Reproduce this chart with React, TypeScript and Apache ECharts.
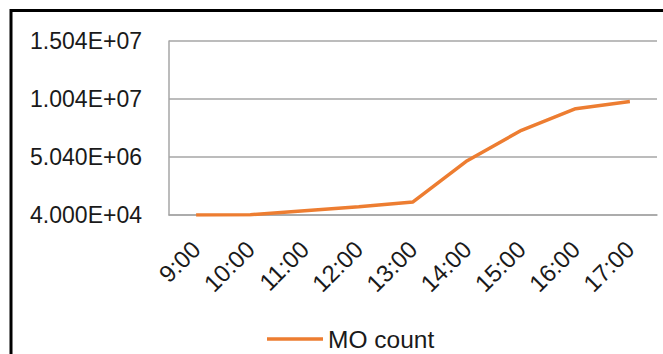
import React, { useEffect, useRef } from "react";
import * as echarts from "echarts";

// Hourly MO counts
const hours = ["9:00", "10:00", "11:00", "12:00", "13:00", "14:00", "15:00", "16:00", "17:00"];
const moCount = [40000, 60000, 410000, 760000, 1170000, 4720000, 7340000, 9200000, 9830000];

// Value axis range and step
const yMin = 40000;
const yMax = 15040000;
const yStep = 5000000;

const FONT = "Liberation Sans";
const TEXT = "#1a1a1a";

// Excel-style scientific notation, e.g. 1.504E+07
const sci = (v: number): string => {
  const [m, e] = v.toExponential(3).split("e");
  const n = parseInt(e, 10);
  return `${m}E${n < 0 ? "-" : "+"}${String(Math.abs(n)).padStart(2, "0")}`;
};

export default function App() {
  const ref = useRef<HTMLDivElement>(null);

  useEffect(() => {
    if (!ref.current) return;
    const chart = echarts.init(ref.current, undefined, { renderer: "svg" });
    chart.setOption({
      animation: false,
      backgroundColor: "#ffffff",
      textStyle: { fontFamily: FONT },
      graphic: [
        {
          type: "rect",
          shape: { x: 11, y: 10.5, width: 700, height: 400 },
          style: { fill: "none", stroke: "#000", lineWidth: 3 },
          silent: true,
        },
      ],
      grid: { left: 169, right: 6, top: 41, bottom: 139, containLabel: false },
      legend: {
        data: ["MO count"],
        left: 267,
        top: 326,
        padding: 0,
        icon: "rect",
        itemWidth: 56,
        itemHeight: 3.5,
        itemGap: 6,
        textStyle: {
          fontFamily: FONT,
          fontSize: 24.5,
          lineHeight: 26,
          color: TEXT,
          padding: [0, 0, 0, 0],
        },
      },
      xAxis: {
        type: "category",
        data: hours,
        boundaryGap: true,
        axisLine: { lineStyle: { color: "#a6a6a6", width: 1.5 } },
        axisTick: { show: false },
        axisLabel: {
          rotate: 45,
          margin: 30,
          interval: 0,
          fontFamily: FONT,
          fontSize: 24,
          color: TEXT,
        },
      },
      yAxis: {
        type: "value",
        min: yMin,
        max: yMax,
        interval: yStep,
        axisLine: { show: true, lineStyle: { color: "#a6a6a6", width: 1.5 } },
        axisTick: { show: false },
        splitLine: { lineStyle: { color: "#a6a6a6", width: 1.5 } },
        axisLabel: {
          margin: 27,
          fontFamily: FONT,
          fontSize: 23,
          color: TEXT,
          formatter: (v: number) => sci(v),
        },
      },
      series: [
        {
          name: "MO count",
          type: "line",
          data: moCount,
          symbol: "none",
          lineStyle: { color: "#ED7D31", width: 3.5 },
          itemStyle: { color: "#ED7D31" },
        },
      ],
    });
    return () => chart.dispose();
  }, []);

  return (
    <div
      ref={ref}
      style={{ position: "fixed", left: 0, top: 0, width: 663, height: 354 }}
    />
  );
}
